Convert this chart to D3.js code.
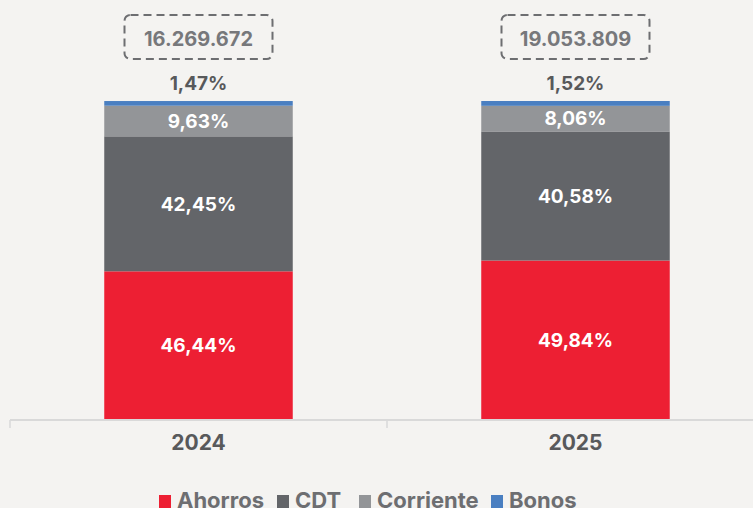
<!DOCTYPE html>
<html>
<head>
<meta charset="utf-8">
<script src="https://cdn.jsdelivr.net/npm/d3@7"></script>
<style>
  body { margin: 0; background: #f4f3f1; }
  svg { display: block; font-family: Inter, 'Open Sans', sans-serif; }
</style>
</head>
<body>
<div id="chart"></div>
<script>
// data
var years = ['2024', '2025']
var series = ['Ahorros', 'CDT', 'Corriente', 'Bonos']
var ahorros = [46.44, 49.84]
var cdt = [42.45, 40.58]
var corriente = [9.63, 8.06]
var bonos = [1.47, 1.52]
var totals = ['16.269.672', '19.053.809']

var colors = ['#ed1f33', '#636569', '#939598', '#4a7fc1']

var width = 753
var height = 508

var svg = d3
  .select('#chart')
  .append('svg')
  .attr('width', width)
  .attr('height', height)

var rows = years.map((y, i) => ({
  year: y,
  Ahorros: ahorros[i],
  CDT: cdt[i],
  Corriente: corriente[i],
  Bonos: bonos[i],
  total: totals[i]
}))

var xScale = d3
  .scaleBand()
  .domain(years)
  .range([10, 764])
  .paddingInner(0.5)
  .paddingOuter(0.25)

var yScale = d3.scaleLinear().domain([0, 100]).range([419, 101])

var colorScale = d3.scaleOrdinal().domain(series).range(colors)

var stacked = d3.stack().keys(series)(rows)

var pct = v => d3.format('.2f')(v).replace('.', ',') + '%'

// bars
svg
  .selectAll('.layer')
  .data(stacked)
  .enter()
  .append('g')
  .attr('class', 'layer')
  .attr('fill', d => colorScale(d.key))
  .selectAll('rect')
  .data(d => d)
  .enter()
  .append('rect')
  .attr('x', d => xScale(d.data.year))
  .attr('y', d => yScale(d[1]))
  .attr('width', xScale.bandwidth())
  .attr('height', d => yScale(d[0]) - yScale(d[1]))

// labels inside bars
stacked.slice(0, 3).forEach(layer => {
  svg
    .selectAll('.lbl-' + layer.key)
    .data(layer)
    .enter()
    .append('text')
    .attr('x', d => xScale(d.data.year) + xScale.bandwidth() / 2)
    .attr('y', d => (yScale(d[0]) + yScale(d[1])) / 2)
    .attr('dy', '0.36em')
    .attr('text-anchor', 'middle')
    .attr('fill', '#fff')
    .attr('font-weight', 700)
    .attr('font-size', 19)
    .text(d => pct(d[1] - d[0]))
})

// bonos label above bar
var bonosLayer = stacked[3]
svg
  .selectAll('.lbl-bonos')
  .data(bonosLayer)
  .enter()
  .append('text')
  .attr('x', d => xScale(d.data.year) + xScale.bandwidth() / 2)
  .attr('y', d => yScale(d[1]) - 18)
  .attr('dy', '0.36em')
  .attr('text-anchor', 'middle')
  .attr('fill', '#58595b')
  .attr('font-weight', 700)
  .attr('font-size', 19)
  .text(d => pct(d[1] - d[0]))

// totals in dashed boxes
var boxes = svg
  .selectAll('.total')
  .data(rows)
  .enter()
  .append('g')
  .attr('class', 'total')
  .attr('transform', d => `translate(${xScale(d.year) + xScale.bandwidth() / 2}, 37)`)

boxes
  .append('rect')
  .attr('x', -74)
  .attr('y', -22)
  .attr('width', 148)
  .attr('height', 44)
  .attr('rx', 6)
  .attr('fill', 'none')
  .attr('stroke', '#6d6e71')
  .attr('stroke-width', 2)
  .attr('stroke-dasharray', '8,5')

boxes
  .append('text')
  .attr('text-anchor', 'middle')
  .attr('y', 2)
  .attr('dy', '0.36em')
  .attr('fill', '#77787b')
  .attr('font-weight', 700)
  .attr('font-size', 20)
  .text(d => d.total)

// x axis
var xAxis = d3.axisBottom(xScale).tickSize(0).tickPadding(15)

var axisG = svg
  .append('g')
  .attr('class', 'axis x-axis')
  .attr('transform', 'translate(0, 420)')
  .call(xAxis)

axisG.select('.domain').remove()
axisG
  .selectAll('text')
  .attr('font-family', "Inter, 'Open Sans', sans-serif")
  .attr('font-size', 21)
  .attr('font-weight', 700)
  .attr('fill', '#58595b')

axisG
  .append('line')
  .attr('x1', 10)
  .attr('x2', width)
  .attr('stroke', '#d9d9d9')
  .attr('stroke-width', 2)

axisG
  .selectAll('.sep')
  .data([10, 10 + xScale.step()])
  .enter()
  .append('line')
  .attr('x1', d => d)
  .attr('x2', d => d)
  .attr('y1', 0)
  .attr('y2', 8)
  .attr('stroke', '#d9d9d9')
  .attr('stroke-width', 1.5)

// legend
var legendX = [159, 277, 359, 491]
var legend = svg
  .selectAll('.legend')
  .data(series)
  .enter()
  .append('g')
  .attr('class', 'legend')
  .attr('transform', (d, i) => `translate(${legendX[i]}, 495)`)

legend
  .append('rect')
  .attr('width', 12)
  .attr('height', 15)
  .attr('fill', d => colorScale(d))

legend
  .append('text')
  .attr('x', 18)
  .attr('y', 13)
  .attr('fill', '#6d6e71')
  .attr('font-weight', 700)
  .attr('font-size', 22)
  .text(d => d)
</script>
</body>
</html>
